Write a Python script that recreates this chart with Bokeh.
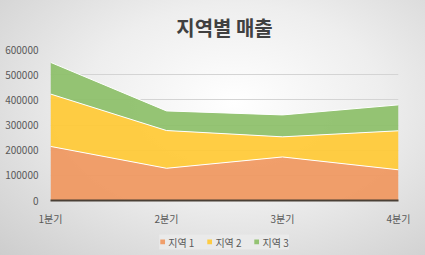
from bokeh.plotting import figure
from bokeh.layouts import column
from bokeh.models import ColumnDataSource, Range1d, FixedTicker, NumeralTickFormatter, Legend, LegendItem
from bokeh.embed import file_html
from bokeh.resources import INLINE

quarters = ["1분기", "2분기", "3분기", "4분기"]
series_names = ["지역 1", "지역 2", "지역 3"]
region1 = [215000, 128000, 173000, 122000]
region2 = [208000, 150000, 80000, 155000]
region3 = [126000, 78000, 87000, 103000]
colors = ["#F0975E", "#FFC934", "#8CBF68"]
y_ticks = [0, 100000, 200000, 300000, 400000, 500000, 600000]

FONT = "Noto Sans CJK KR"

source = ColumnDataSource(dict(x=list(range(len(quarters))), r1=region1, r2=region2, r3=region3))

p = figure(width=425, height=228, output_backend="svg", toolbar_location=None,
           x_range=Range1d(0, len(quarters) - 1), y_range=Range1d(0, 600000),
           min_border_left=50, min_border_right=27, min_border_top=49, min_border_bottom=25,
           title="지역별 매출")
p.border_fill_color = None
p.background_fill_color = None
p.outline_line_color = None

p.title.align = "center"
p.title.text_font = FONT
p.title.text_font_size = "20px"
p.title.text_font_style = "bold"
p.title.text_color = "#404040"
p.title.standoff = 16

p.varea_stack(stackers=["r1", "r2", "r3"], x="x", color=colors, fill_alpha=0.92, source=source)
p.vline_stack(stackers=["r1", "r2", "r3"], x="x", color="white", line_width=1, source=source)

p.xaxis.ticker = FixedTicker(ticks=list(range(len(quarters))))
p.xaxis.major_label_overrides = {i: q for i, q in enumerate(quarters)}
p.yaxis.ticker = FixedTicker(ticks=y_ticks)
p.yaxis.formatter = NumeralTickFormatter(format="0")
for ax in (p.xaxis, p.yaxis):
    ax.major_label_text_font = FONT
    ax.major_label_text_font_size = "10px"
    ax.major_label_text_color = "#595959"
    ax.major_tick_line_color = None
    ax.minor_tick_line_color = None
p.yaxis.axis_line_color = None
p.yaxis.major_label_standoff = 6
p.xaxis.axis_line_color = "#4a4036"
p.xaxis.axis_line_width = 2
p.xaxis.major_label_standoff = 4
p.xgrid.grid_line_color = None
p.ygrid.grid_line_color = "#d4d4d4"

# legend strip
lg = figure(width=425, height=27, output_backend="svg", toolbar_location=None,
            x_range=Range1d(0, 1), y_range=Range1d(0, 1),
            min_border=0, border_fill_color=None, background_fill_color=None,
            outline_line_color=None)
lg.axis.visible = False
lg.grid.visible = False
items = []
for name, c in zip(series_names, colors):
    r = lg.varea(x=[5, 6], y1=[5, 5], y2=[6, 6], color=c, fill_alpha=0.92)
    items.append(LegendItem(label=name, renderers=[r]))
legend = Legend(items=items, orientation="horizontal", location="center",
                label_text_font=FONT, label_text_font_size="10px", label_text_color="#595959",
                glyph_width=6, glyph_height=6, label_standoff=3, spacing=12,
                padding=3, margin=0, background_fill_color="#ebebeb", background_fill_alpha=0.85,
                border_line_color=None, label_height=10)
lg.add_layout(legend)

layout = column(p, lg, spacing=0)
layout.styles = {"background": "radial-gradient(ellipse farthest-corner at 55% 40%, #ffffff 0%, #eeeeee 45%, #cdcdcd 100%)"}

open("out.html", "w").write(file_html(layout, INLINE))
